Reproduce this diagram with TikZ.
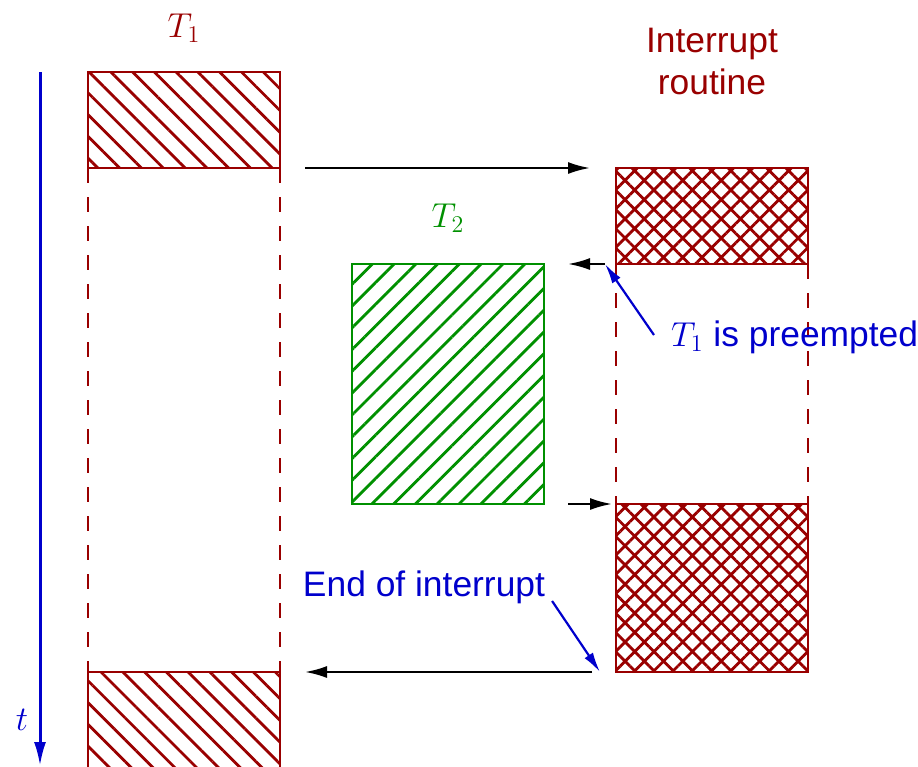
\documentclass[tikz,border=0pt]{standalone}
\usepackage{fontspec}
\setmainfont{Liberation Sans}
\usepackage{tikz}
\usetikzlibrary{arrows.meta, patterns.meta}
\definecolor{taskred}{HTML}{990000}
\definecolor{taskgreen}{HTML}{009000}
\definecolor{noteblue}{HTML}{0000CC}

\begin{document}
\begin{tikzpicture}[x=0.5pt, y=-0.5pt, font=\fontsize{17.7}{21}\selectfont,
    taskbox/.style={draw, line width=1.4pt, inner sep=0pt, outer sep=0pt, minimum width=96pt},
    onetask/.style={taskbox, taskred, pattern color=taskred,
      pattern={Lines[angle=-45, distance=7.7pt, line width=1.4pt]}},
    twotask/.style={taskbox, taskgreen, pattern color=taskgreen,
      pattern={Lines[angle=45, distance=7.7pt, line width=1.4pt]}},
    irqtask/.style={taskbox, taskred, pattern color=taskred,
      pattern={Hatch[angle=45, distance=6.8pt, line width=1.4pt]}},
    waiting/.style={taskred, line width=1.4pt, dash pattern=on 7.5pt off 7pt},
    flow/.style={-{Latex[length=11pt, width=6pt]}, line width=1.1pt},
    pointer/.style={-{Latex[length=10pt, width=5pt]}, noteblue, line width=1.1pt}]
    \useasboundingbox (0,0) rectangle (918,767);
    % time axis
    \coordinate (ttop) at (40,72);
    \coordinate (tend) at (40,766);
    \draw[noteblue, line width=1.5pt, -{Latex[length=12pt, width=6pt]}] (ttop) -- (tend);
    \node[noteblue] (tlabel) at (22,720) {$t$};
    % tasks
    \node[onetask, minimum height=48pt] (t1a) at (184,120) {};
    \node[onetask, minimum height=52pt] (t1b) at (184,724) {};
    \node[twotask, minimum height=120pt] (t2) at (448,384) {};
    \node[irqtask, minimum height=48pt] (ir1) at (712,216) {};
    \node[irqtask, minimum height=84pt] (ir2) at (712,588) {};
    \node[taskred] (t1name) at (184,28) {$T_1$};
    \node[taskgreen] (t2name) at (448,218) {$T_2$};
    \node[taskred, align=center] (irname) at (712,61) {Interrupt\\routine};
    \draw[waiting] (t1a.south west) -- (t1b.north west);
    \draw[waiting] (t1a.south east) -- (t1b.north east);
    \draw[waiting] (ir1.south west) -- (ir2.north west);
    \draw[waiting] (ir1.south east) -- (ir2.north east);
    % control flow
    \draw[flow] ([xshift=12.5pt]t1a.south east) -- ([xshift=-13pt]ir1.north west);
    \draw[flow] ([xshift=-5.5pt]ir1.south west) -- ([xshift=12pt]t2.north east);
    \draw[flow] ([xshift=12pt]t2.south east) -- ([xshift=-2pt]ir2.north west);
    \draw[flow] ([xshift=-12pt]ir2.south west) -- ([xshift=12.5pt]t1b.north east);
    % notes
    \node[noteblue, anchor=west] (preempt) at (664,337) {$T_1$ is preempted};
    \node[noteblue] (irqend) at (424,587) {End of interrupt};
    \draw[pointer] ([shift={(-5pt,1pt)}]preempt.west) -- ([xshift=-5.5pt]ir1.south west);
    \draw[pointer] ([shift={(0pt,-7pt)}]irqend.east) -- ([xshift=-8pt]ir2.south west);
\end{tikzpicture}
\end{document}
